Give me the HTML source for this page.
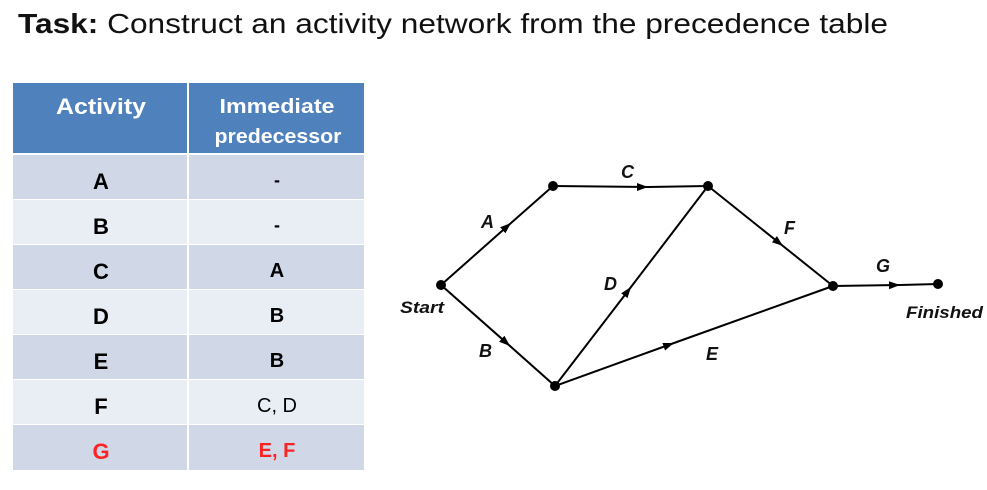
<!DOCTYPE html>
<html><head><meta charset="utf-8"><style>
html,body{margin:0;padding:0;background:#fff;}
svg{display:block;}
</style></head><body>
<svg width="987" height="490" viewBox="0 0 987 490" xmlns="http://www.w3.org/2000/svg">
<defs>
<marker id="ar" markerUnits="userSpaceOnUse" markerWidth="12" markerHeight="9" refX="11" refY="4" orient="auto">
<path d="M0,0 L11,4 L0,8 z" fill="#000"/>
</marker>
</defs>
<rect width="987" height="490" fill="#fff"/>
<!-- Title -->
<text x="18" y="33" font-family="Liberation Sans, sans-serif" font-size="27.5" fill="#111" textLength="870" lengthAdjust="spacingAndGlyphs"><tspan font-weight="bold">Task:</tspan> Construct an activity network from the precedence table</text>

<!-- Table -->
<rect x="13" y="83" width="351" height="70" fill="#4F81BD"/>
<rect x="13" y="155" width="351" height="44" fill="#D0D8E8"/>
<rect x="13" y="200" width="351" height="44" fill="#E9EDF4"/>
<rect x="13" y="245" width="351" height="44" fill="#D0D8E8"/>
<rect x="13" y="290" width="351" height="44" fill="#E9EDF4"/>
<rect x="13" y="335" width="351" height="44" fill="#D0D8E8"/>
<rect x="13" y="380" width="351" height="44" fill="#E9EDF4"/>
<rect x="13" y="425" width="351" height="45" fill="#D0D8E8"/>
<rect x="187" y="83" width="2" height="387" fill="#fff"/>

<g font-family="Liberation Sans, sans-serif" font-weight="bold" text-anchor="middle">
<text x="101" y="114" font-size="22" fill="#fff" textLength="90" lengthAdjust="spacingAndGlyphs">Activity</text>
<text x="277" y="113" font-size="20" fill="#fff" textLength="115" lengthAdjust="spacingAndGlyphs">Immediate</text>
<text x="278" y="143" font-size="20" fill="#fff" textLength="127" lengthAdjust="spacingAndGlyphs">predecessor</text>

<g font-size="22" fill="#000">
<text x="101" y="189">A</text>
<text x="101" y="234">B</text>
<text x="101" y="279">C</text>
<text x="101" y="324">D</text>
<text x="101" y="369">E</text>
<text x="101" y="414">F</text>
<text x="101" y="459" fill="#F22">G</text>
<text x="277" y="186" font-size="18">-</text>
<text x="277" y="231" font-size="18">-</text>
<text x="277" y="277" font-size="20">A</text>
<text x="277" y="322" font-size="20">B</text>
<text x="277" y="367" font-size="20">B</text>
<text x="277" y="412" font-size="20" font-weight="normal">C, D</text>
<text x="277" y="457" font-size="20" fill="#F22">E, F</text>
</g>
</g>

<!-- Network edges -->
<g stroke="#000" stroke-width="2" fill="none" marker-mid="url(#ar)">
<polyline points="441,285 511,223 553,186"/>
<polyline points="553,186 648,187 708,186"/>
<polyline points="441,285 510,346 555,386"/>
<polyline points="555,386 631,287 708,186"/>
<polyline points="555,386 674,343 833,286"/>
<polyline points="708,186 783,246 833,286"/>
<polyline points="833,286 900,285 938,284"/>
</g>
<g fill="#000">
<circle cx="441" cy="285" r="5"/>
<circle cx="553" cy="186" r="5"/>
<circle cx="708" cy="186" r="5"/>
<circle cx="555" cy="386" r="5"/>
<circle cx="833" cy="286" r="5"/>
<circle cx="938" cy="284" r="5"/>
</g>

<!-- Labels -->
<g font-family="Liberation Sans, sans-serif" font-weight="bold" font-style="italic" font-size="18" fill="#111">
<text x="481" y="228">A</text>
<text x="621" y="178">C</text>
<text x="479" y="357">B</text>
<text x="604" y="290">D</text>
<text x="706" y="360">E</text>
<text x="784" y="234">F</text>
<text x="876" y="272">G</text>
<text x="400" y="313" font-size="17" textLength="44" lengthAdjust="spacingAndGlyphs">Start</text>
<text x="906" y="318" font-size="17" textLength="77" lengthAdjust="spacingAndGlyphs">Finished</text>
</g>
</svg>
</body></html>
